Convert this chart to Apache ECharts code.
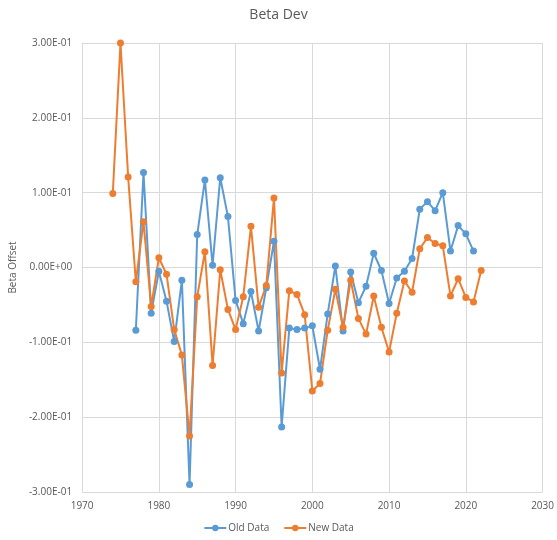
<!DOCTYPE html>
<html><head><meta charset="utf-8">
<script src="https://cdn.jsdelivr.net/npm/echarts@6/dist/echarts.min.js"></script>
<style>html,body{margin:0;padding:0;background:#fff}#c{width:557px;height:540px}</style>
</head><body><div id="c"></div>
<script>
const oldYears = [1977,1978,1979,1980,1981,1982,1983,1984,1985,1986,1987,1988,1989,1990,1991,1992,1993,1994,1995,1996,1997,1998,1999,2000,2001,2002,2003,2004,2005,2006,2007,2008,2009,2010,2011,2012,2013,2014,2015,2016,2017,2018,2019,2020,2021];
const oldValues = [-0.084,0.127,-0.061,-0.005,-0.045,-0.099,-0.017,-0.290,0.044,0.117,0.003,0.120,0.068,-0.044,-0.075,-0.032,-0.085,-0.027,0.035,-0.213,-0.081,-0.083,-0.081,-0.078,-0.136,-0.062,0.002,-0.085,-0.006,-0.047,-0.025,0.019,-0.004,-0.048,-0.014,-0.005,0.012,0.078,0.088,0.076,0.100,0.022,0.056,0.045,0.022];
const newYears = [1974,1975,1976,1977,1978,1979,1980,1981,1982,1983,1984,1985,1986,1987,1988,1989,1990,1991,1992,1993,1994,1995,1996,1997,1998,1999,2000,2001,2002,2003,2004,2005,2006,2007,2008,2009,2010,2011,2012,2013,2014,2015,2016,2017,2018,2019,2020,2021,2022];
const newValues = [0.099,0.300,0.121,-0.019,0.061,-0.052,0.013,-0.009,-0.083,-0.117,-0.225,-0.039,0.021,-0.131,-0.003,-0.056,-0.083,-0.039,0.055,-0.053,-0.024,0.093,-0.141,-0.031,-0.036,-0.063,-0.165,-0.155,-0.084,-0.029,-0.080,-0.017,-0.068,-0.089,-0.038,-0.080,-0.113,-0.061,-0.018,-0.033,0.025,0.040,0.032,0.029,-0.038,-0.015,-0.040,-0.046,-0.004];
const seriesNames = ['Old Data','New Data'];

function sci(v){
  if (Math.abs(v) < 1e-12) return '0.00E+00';
  let e = Math.floor(Math.log10(Math.abs(v)) + 1e-9);
  let m = v / Math.pow(10, e);
  let es = (e < 0 ? '-' : '+') + String(Math.abs(e)).padStart(2,'0');
  return m.toFixed(2) + 'E' + es;
}
const font = '"Open Sans", "Liberation Sans", sans-serif';
const chart = echarts.init(document.getElementById('c'));
chart.setOption({
  animation: false,
  color: ['#5B9BD5','#ED7D31'],
  title: { text: 'Beta Dev', left: 'center', top: 3, textStyle: { fontFamily: font, fontSize: 14, fontWeight: 'normal', color: '#595959' } },
  grid: { left: 77, right: 14, top: 43, bottom: 48 },
  legend: { bottom: 2, left: 'center', itemWidth: 22, itemHeight: 8, itemGap: 14, textStyle: { fontFamily: font, fontSize: 10, color: '#595959', padding: [0,0,0,-3] }, data: seriesNames },
  xAxis: { type: 'value', min: 1970, max: 2030, interval: 10,
    axisLine: { show: true, lineStyle: { color: '#d9d9d9' } }, axisTick: { show: false },
    splitLine: { show: true, lineStyle: { color: '#d9d9d9' } },
    axisLabel: { fontFamily: font, fontSize: 10, color: '#595959', margin: 9, formatter: v => String(v) } },
  yAxis: { type: 'value', min: -0.3, max: 0.3, interval: 0.1,
    name: 'Beta Offset', nameLocation: 'middle', nameGap: 59, nameRotate: 90,
    nameTextStyle: { fontFamily: font, fontSize: 10, color: '#595959' },
    axisLine: { show: true, lineStyle: { color: '#d9d9d9' } }, axisTick: { show: false },
    splitLine: { show: true, lineStyle: { color: '#d9d9d9' } },
    axisLabel: { fontFamily: font, fontSize: 10, color: '#595959', margin: 10, formatter: sci } },
  series: [
    { name: seriesNames[0], type: 'line', data: oldYears.map((y,i)=>[y, oldValues[i]]), symbol: 'circle', symbolSize: 7, lineStyle: { width: 2 } },
    { name: seriesNames[1], type: 'line', data: newYears.map((y,i)=>[y, newValues[i]]), symbol: 'circle', symbolSize: 7, lineStyle: { width: 2 } }
  ]
});
</script></body></html>
